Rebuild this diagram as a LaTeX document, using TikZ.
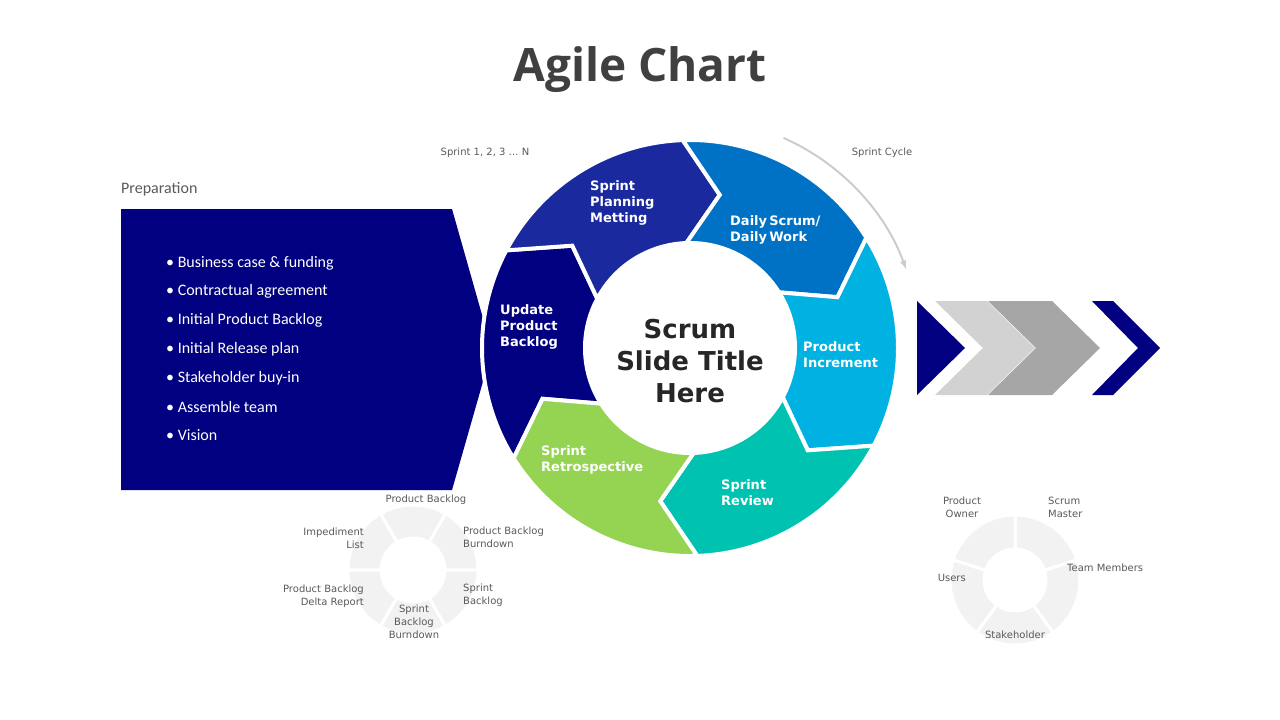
\documentclass[tikz,border=0pt]{standalone}
\usepackage{fontspec}
\setmainfont{Carlito}
\newfontfamily\titlefont{Open Sans}
\newfontfamily\labfont{DejaVu Sans}
\usetikzlibrary{positioning}
\definecolor{navy}{RGB}{0,0,128}
\definecolor{cplan}{RGB}{26,42,158}
\definecolor{cdaily}{RGB}{0,114,198}
\definecolor{cincr}{RGB}{0,178,226}
\definecolor{crev}{RGB}{0,194,176}
\definecolor{cretro}{RGB}{148,212,82}
\definecolor{txtgray}{RGB}{89,89,89}
\definecolor{wheelgray}{RGB}{242,242,242}
\newcommand{\segm}[2]{%
  \fill[#2,draw=white,line width=4pt] (#1:208) arc[start angle=#1,end angle=#1-60,radius=208]
    -- (#1-73:156) -- (#1-60:105) arc[start angle=#1-60,end angle=#1,radius=105]
    -- (#1-13:156) -- cycle;}
\begin{document}
\begin{tikzpicture}[x=1pt,y=-1pt]
\tikzset{seglab/.style={font=\labfont\bfseries\fontsize{13}{16}\selectfont,text=white,align=left,anchor=west,inner sep=0pt},
  small/.style={font=\labfont\fontsize{10}{13}\selectfont,text=txtgray,inner sep=0pt}}
\useasboundingbox (0,0) rectangle (1280,720);
\node[font=\titlefont\bfseries\fontsize{46}{50}\selectfont,text={rgb,255:red,64;green,64;blue,64}] (title) at (640,70) {Agile Chart};
% preparation
\node[font=\fontsize{16}{19}\selectfont,text=txtgray,anchor=west,inner sep=0pt] (prep) at (121,189) {Preparation};
\fill[navy] (121,209) -- (452,209) -- (492,350) -- (452,490) -- (121,490) -- cycle;
\foreach \t [count=\i] in {Business case \& funding,Contractual agreement,Initial Product Backlog,Initial Release plan,Stakeholder buy-in,Assemble team,Vision}
  \node[font=\fontsize{16}{19}\selectfont,text=white,anchor=west,inner sep=0pt] (b\i) at (166,263+28.7*\i-28.7) {\textbullet\ \t};
% scrum ring
\begin{scope}[shift={(690,348)},yscale=-1]
\segm{212}{navy}
\segm{152}{cplan}
\segm{92}{cdaily}
\segm{32}{cincr}
\segm{-28}{crev}
\segm{-88}{cretro}
\draw[gray!40,line width=2pt,-latex] (66:230) arc[start angle=66,end angle=20,radius=230];
\end{scope}
\node[align=center,font=\labfont\bfseries\fontsize{26}{32}\selectfont,text={rgb,255:red,38;green,38;blue,38}] (center) at (690,361) {Scrum\\Slide Title\\Here};
\node[seglab] (plan) at (590,203) {Sprint\\Planning\\Metting};
\node[seglab] (daily) at (730,230) {Daily\,Scrum/\\Daily\,Work};
\node[seglab] (incr) at (803,355) {Product\\Increment};
\node[seglab] (rev) at (721,493) {Sprint\\Review};
\node[seglab] (retro) at (541,460) {Sprint\\Retrospective};
\node[seglab] (upd) at (500,327) {Update\\Product\\Backlog};
\node[small] (sprintn) at (485,153) {Sprint 1, 2, 3 \dots{} N};
\node[small] (cycle) at (882,153) {Sprint Cycle};
% chevrons
\fill[navy] (917,301) -- (965,348) -- (917,395) -- cycle;
\fill[gray!35] (935,301) -- (987,301) -- (1035,348) -- (987,395) -- (935,395) -- (983,348) -- cycle;
\fill[gray!70] (988,301) -- (1052,301) -- (1100,348) -- (1052,395) -- (988,395) -- (1036,348) -- cycle;
\fill[navy] (1092,301) -- (1113,301) -- (1160,348) -- (1113,395) -- (1092,395) -- (1138,348) -- cycle;
% artifact wheel
\begin{scope}[shift={(413,570)},yscale=-1]
\foreach \a in {0,60,...,300}
  \fill[wheelgray,draw=white,line width=3pt] (\a:65) arc[start angle=\a,end angle=\a+60,radius=65]
    -- (\a+60:32) arc[start angle=\a+60,end angle=\a,radius=32] -- cycle;
\end{scope}
\node[small] (pb) at (426,500) {Product Backlog};
\node[small,align=right,anchor=east] (imp) at (364,538) {Impediment\\List};
\node[small,align=left,anchor=west] (pbb) at (463,537) {Product Backlog\\Burndown};
\node[small,align=right,anchor=east] (delta) at (364,596) {Product Backlog\\Delta Report};
\node[small,align=left,anchor=west] (sb) at (463,595) {Sprint\\Backlog};
\node[small,align=center] (sbb) at (414,622) {Sprint\\Backlog\\Burndown};
% roles wheel
\begin{scope}[shift={(1015,580)},yscale=-1]
\foreach \a in {18,90,...,306}
  \fill[wheelgray,draw=white,line width=3pt] (\a:65) arc[start angle=\a,end angle=\a+72,radius=65]
    -- (\a+72:31) arc[start angle=\a+72,end angle=\a,radius=31] -- cycle;
\end{scope}
\node[small,align=center] (po) at (962,507) {Product\\Owner};
\node[small,align=left,anchor=west] (sm) at (1048,507) {Scrum\\Master};
\node[small,anchor=west] (tm) at (1067,568) {Team Members};
\node[small,anchor=east] (users) at (966,578) {Users};
\node[small] (sh) at (1015,635) {Stakeholder};
\end{tikzpicture}
\end{document}
